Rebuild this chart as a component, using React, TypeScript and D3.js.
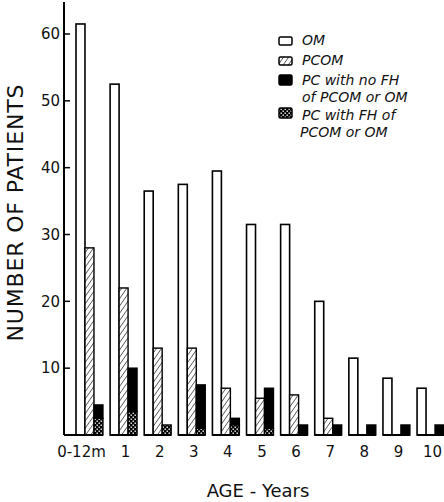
import React from 'react';
import * as d3 from 'd3';

// values (number of patients per age group)
const ageGroups = ['0-12m', '1', '2', '3', '4', '5', '6', '7', '8', '9', '10'];
const omCounts = [61.5, 52.5, 36.5, 37.5, 39.5, 31.5, 31.5, 20, 11.5, 8.5, 7];
const pcomCounts = [28, 22, 13, 13, 7, 5.5, 6, 2.5, 0, 0, 0];
const pcNoFhCounts = [2, 6.5, 0, 6.5, 1, 6, 1.5, 1.5, 1.5, 1.5, 1.5];
const pcFhCounts = [2.5, 3.5, 1.5, 1, 1.5, 1, 0, 0, 0, 0, 0];
const yTicks = [10, 20, 30, 40, 50, 60];
const legendItems = [
  { key: 'om', lines: ['OM'] },
  { key: 'pcom', lines: ['PCOM'] },
  { key: 'nofh', lines: ['PC with no FH', 'of PCOM or OM'] },
  { key: 'fh', lines: ['PC with FH of', 'PCOM or OM'] },
];

const W = 444;
const H = 502;
const axisX = 64;
const font = '"DejaVu Sans", sans-serif';

const fillFor = (key: string) =>
  key === 'om' ? '#fff' : key === 'pcom' ? 'url(#hatch)' : key === 'nofh' ? '#000' : 'url(#checker)';

export default function App() {
  const y = d3.scaleLinear().domain([0, 60]).range([435, 34]);
  const x = d3.scaleBand<string>().domain(ageGroups).range([76, 444]).paddingInner(0.21).paddingOuter(0);
  const sub = d3.scaleBand<string>().domain(['om', 'pcom', 'pc']).range([0, x.bandwidth()]);
  const base = y(0);
  const sw = sub.bandwidth();

  // legend rows: box top, text baselines
  const legendRows = [
    { top: 37, base: [45] },
    { top: 57, base: [65] },
    { top: 75, base: [85, 102] },
    { top: 108, base: [120, 137] },
  ];

  return (
    <svg width={W} height={H} style={{ position: 'absolute', left: 0, top: 0, background: '#fff' }}>
      <defs>
        <pattern id="hatch" width={4.2} height={4.2} patternUnits="userSpaceOnUse" patternTransform="rotate(35)">
          <rect width={4.2} height={4.2} fill="#fff" />
          <line x1={0} y1={0} x2={0} y2={4.2} stroke="#000" strokeWidth={1.1} />
        </pattern>
        <pattern id="checker" width={4} height={4} patternUnits="userSpaceOnUse">
          <rect width={4} height={4} fill="#000" />
          <rect x={0.5} y={0.5} width={1.4} height={1.4} fill="#fff" />
          <rect x={2.5} y={2.5} width={1.4} height={1.4} fill="#fff" />
        </pattern>
      </defs>

      {/* y axis */}
      <line x1={axisX} x2={axisX} y1={2} y2={base} stroke="#000" strokeWidth={2} />
      <line x1={axisX} x2={x(ageGroups[0])!} y1={base} y2={base} stroke="#000" strokeWidth={2} />
      {yTicks.map(t => (
        <g key={t}>
          <line x1={axisX} x2={axisX + 6} y1={y(t)} y2={y(t)} stroke="#000" strokeWidth={1.5} />
          <text x={axisX - 4} y={y(t)} dy="0.35em" textAnchor="end" fontFamily={font} fontSize={15} fill="#111">
            {t}
          </text>
        </g>
      ))}
      <text
        transform={`translate(23,213) rotate(-90)`}
        textAnchor="middle"
        fontFamily={font}
        fontSize={22}
        textLength={257}
        lengthAdjust="spacing"
        fill="#111"
      >
        NUMBER OF PATIENTS
      </text>

      {/* bars */}
      {ageGroups.map((g, i) => {
        const gx = x(g)!;
        const pcx = gx + sub('pc')!;
        const fhTop = y(pcFhCounts[i]);
        const pcTop = y(pcFhCounts[i] + pcNoFhCounts[i]);
        return (
          <g key={g}>
            <rect x={gx + sub('om')!} y={y(omCounts[i])} width={sw} height={base - y(omCounts[i])}
              fill="#fff" stroke="#000" strokeWidth={1.6} />
            {pcomCounts[i] > 0 && (
              <rect x={gx + sub('pcom')!} y={y(pcomCounts[i])} width={sw} height={base - y(pcomCounts[i])}
                fill="url(#hatch)" stroke="#000" strokeWidth={1.4} />
            )}
            {pcNoFhCounts[i] > 0 && (
              <rect x={pcx} y={pcTop} width={sw} height={fhTop - pcTop} fill="#000" stroke="#000" strokeWidth={1.4} />
            )}
            {pcFhCounts[i] > 0 && (
              <rect x={pcx} y={fhTop} width={sw} height={base - fhTop} fill="url(#checker)" stroke="#000" strokeWidth={1.4} />
            )}
            <line x1={gx} x2={gx + x.bandwidth()} y1={base} y2={base} stroke="#000" strokeWidth={2} />
            <text x={gx + x.bandwidth() / 2 + (i === 0 ? -8 : 2)} y={457} textAnchor="middle" fontFamily={font}
              fontSize={15} fill="#111">
              {g}
            </text>
          </g>
        );
      })}

      <text x={258} y={497} textAnchor="middle" fontFamily={font} fontSize={18} fill="#111">
        AGE - Years
      </text>

      {/* legend */}
      {legendItems.map((item, i) => {
        const row = legendRows[i];
        return (
          <g key={item.key}>
            <rect x={279} y={row.top} width={13} height={item.key === 'om' || item.key === 'pcom' ? 8 : 10} rx={1.5}
              fill={fillFor(item.key)} stroke="#000" strokeWidth={1.5} />
            {item.lines.map((ln, j) => (
              <text key={j} x={i === 3 && j === 1 ? 300 : 302} y={row.base[j]} fontFamily={font} fontStyle="italic"
                fontSize={14} fill="#111">
                {ln}
              </text>
            ))}
          </g>
        );
      })}
    </svg>
  );
}
